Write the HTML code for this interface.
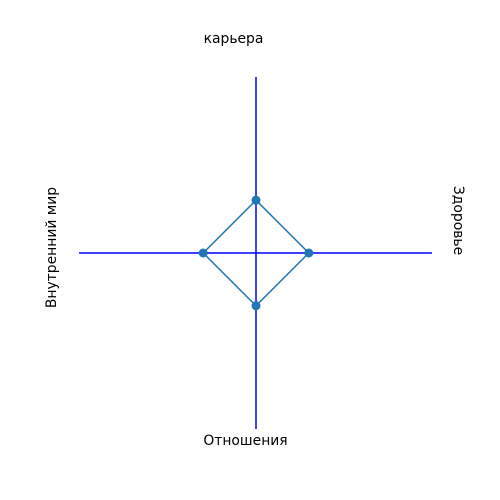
<!DOCTYPE html>
<html><head><meta charset="utf-8"><style>body{margin:0;background:#fff}svg{display:block;font-family:"DejaVu Sans","Liberation Sans",sans-serif}</style></head>
<body>
<svg id="c" width="500" height="500">
<line x1="256" y1="77" x2="256" y2="429" stroke="#0000ff" stroke-width="1.5"/>
<line x1="79" y1="253" x2="432" y2="253" stroke="#0000ff" stroke-width="1.5"/>
<text x="233.5" y="43" font-size="13.9" text-anchor="middle">карьера</text>
<text x="245.5" y="445" font-size="13.9" text-anchor="middle">Отношения</text>
<text transform="translate(56,247.5) rotate(-90)" font-size="13.9" text-anchor="middle">Внутренний мир</text>
<text transform="translate(454,220.5) rotate(90)" font-size="13.9" text-anchor="middle">Здоровье</text>
<g id="series"></g>
</svg>
<script>
const categories=["карьера","Здоровье","Отношения","Внутренний мир"];
const values=[3,3,3,3];
const maxVal=10;
const cx=256,cy=253,R=176;
const angles=[-Math.PI/2,0,Math.PI/2,Math.PI];
function px(i,v){return [cx+Math.cos(angles[i])*v/maxVal*R, cy+Math.sin(angles[i])*v/maxVal*R];}
const g=document.getElementById('series');
const ns="http://www.w3.org/2000/svg";
const pts=values.map((v,i)=>px(i,v));
const poly=document.createElementNS(ns,'polygon');
poly.setAttribute('points',pts.map(p=>p.join(',')).join(' '));
poly.setAttribute('fill','none');poly.setAttribute('stroke','#1f77b4');poly.setAttribute('stroke-width','1.5');


g.appendChild(poly);
pts.forEach((p,i)=>{
const c=document.createElementNS(ns,'circle');
c.setAttribute('cx',p[0]);c.setAttribute('cy',p[1]);c.setAttribute('r','4.5');c.setAttribute('fill','#1f77b4');


g.appendChild(c);
});
</script>
</body></html>
